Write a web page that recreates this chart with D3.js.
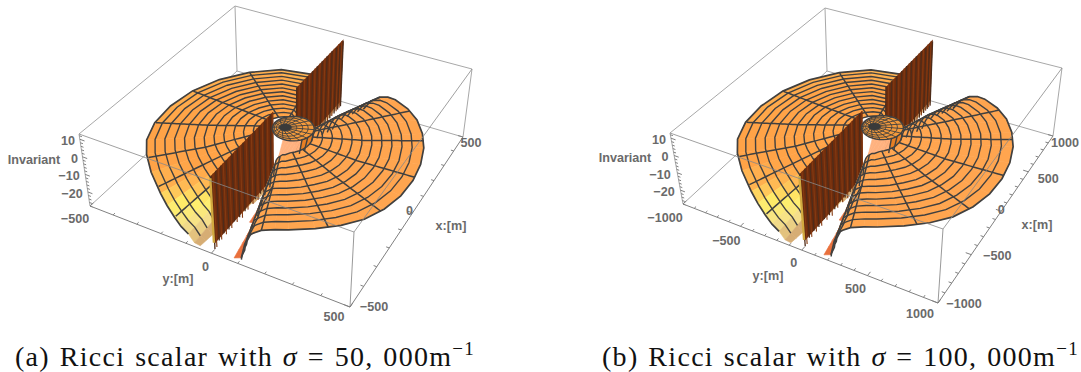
<!DOCTYPE html>
<html>
<head>
<meta charset="utf-8">
<script src="https://cdn.jsdelivr.net/npm/d3@7"></script>
<style>
  body { margin: 0; background: #fff; }
  svg { display: block; }
  .tick-label { font-family: "Liberation Sans", sans-serif; font-weight: bold; font-size: 12.6px; fill: #6a6a6a; text-anchor: middle; dominant-baseline: middle; }
  .caption { font-family: "Liberation Serif", serif; font-size: 28px; fill: #111; letter-spacing: 1.3px; word-spacing: 1.5px; }
</style>
</head>
<body>
<svg width="1081" height="372"></svg>
<script>
// surface values, radii in metres for the +-500 panel
const zDomain = [-28, 13];
const zTicks = [10, 0, -10, -20];
const rowRadii = [80, 280, 490];

const leftAngles = [181, 183, 186, 189, 192, 196, 200, 205, 210, 220, 230, 240, 255, 270, 285, 300, 315, 330, 345, 352, 359];
const leftInnerZ = [-30, -20, -14, -10, -8, -6, -5, -5, -4, -4, -4, -4, -4, -4, -4, -4, -4, -4, -4, -6, -15];
const leftMidZ = [-50, -32, -24, -20, -16, -14, -12, -10, -9, -8, -8, -8, -8, -8, -8, -8, -8, -8, -10, -14, -40];
const leftRimZ = [-80, -60, -40, -28, -25, -23.5, -21, -18, -15, -11, -9, -9, -11, -12, -12, -12, -12, -12, -14, -22, -60];
const leftRings = [75, 110, 145, 180, 215, 250, 285, 320, 355, 390, 425, 460, 490];
const leftSpokes = [200, 213, 228, 255, 285, 315, 345];

const rightAngles = [1, 3, 5, 8, 11, 15, 20, 25, 30, 40, 50, 60, 70, 80, 90, 100, 110, 120, 130, 140, 150, 155, 160, 163, 165, 166.5, 168, 171, 174, 177, 179];
const rightInnerZ = [-40, -32, -26, -22, -18, -15, -13, -11, -10, -9, -8, -8, -8, -8, -8, -8, -8, -8, -8, -8, -9, -9, -10, -10.5, -11, -11.5, -12, -14, -20, -29, -45];
const rightMidZ = [-60, -45, -33, -27, -21, -16, -13, -11, -10, -9, -9, -9, -9, -10, -10, -10.5, -10.5, -10.5, -10, -10, -10, -10, -10.5, -12, -13, -15, -18, -28, -40, -50, -60];
const rightRimZ = [-80, -60, -45, -32, -27, -20, -15, -12, -10.5, -9, -8, -8, -8, -9, -10, -11, -11.5, -11.5, -10.5, -9.5, -9, -9, -10, -12, -14, -19, -27, -36, -50, -60, -70];
const rightRings = [100, 135, 170, 205, 240, 275, 310, 345, 380, 415, 450, 490];
const rightSpokes = [20, 42, 65, 88, 112, 135, 160];

const hubZ = -3;
const hubRings = [22, 36, 50, 62, 74];
const hubSpokes = d3.range(0, 360, 22.5);

const frontWallBars = [-478, -466, -450, -435, -420, -405, -388, -370, -352, -335, -318, -300, -282, -262, -245, -228, -210, -192, -175, -155, -138, -120, -100, -84];
const frontWallLows = [-28, -28, -26, -27, -25, -27, -26, -27, -25, -27, -26, -28, -26, -27, -25, -27, -26, -28, -26, -27, -26, -28, -26, -28];
const backWallBars = [90, 110, 132, 150, 172, 190, 212, 232, 250, 272, 290, 312, 330, 352, 372, 390, 410, 428, 442, 455, 468];
const backWallTops = [13, 13, 13, 13, 13, 13, 13, 13, 13, 13, 13, 13, 13, 13, 13, 13, 12, 13, 11, 13, 12];

const panels = [
  {
    rMax: 500,
    top: { left: [79, 134], back: [235, 6], right: [472, 69], front: [354, 232] },
    floor: { left: [90, 206], back: [237, 71], right: [463, 137], front: [350, 307] },
    xTicks: [-500, 0, 500], yTicks: [-500, 0, 500],
    xLabelOffsets: [[24, 1], [-3, -1], [8, 7]],
    yLabelOffsets: [[-15, 14], [-6, 14], [-16, 11]],
    xTitle: [451, 227], yTitle: [178, 280],
    zLabelX: [68, 74.5, 69, 72], invariant: [34, 161],
    caption: { x: 15, sigma: '50, 000' }
  },
  {
    rMax: 1000,
    top: { left: [670, 133], back: [825, 8], right: [1062, 68], front: [943, 229] },
    floor: { left: [683, 204], back: [827, 71], right: [1053, 136], front: [938, 303] },
    xTicks: [-1000, -500, 0, 500, 1000], yTicks: [-1000, -500, 0, 500, 1000],
    xLabelOffsets: [[26, 2], [26, 2], [0, 0], [20, 8], [12, 8]],
    yLabelOffsets: [[-18, 15], [-14, 15], [-8, 14], [-12, 14], [-18, 12]],
    xTitle: [1037, 226], yTitle: [768, 277],
    zLabelX: [659, 665, 660, 664], invariant: [625, 159],
    caption: { x: 602, sigma: '100, 000' }
  }
];

const squareToQuad = (p0, p1, p2, p3) => {
  const dx1 = p1[0] - p2[0], dx2 = p3[0] - p2[0], sx = p0[0] - p1[0] + p2[0] - p3[0];
  const dy1 = p1[1] - p2[1], dy2 = p3[1] - p2[1], sy = p0[1] - p1[1] + p2[1] - p3[1];
  const det = dx1 * dy2 - dx2 * dy1;
  const g = (sx * dy2 - dx2 * sy) / det;
  const h = (dx1 * sy - sx * dy1) / det;
  const a = p1[0] - p0[0] + g * p1[0], b = p3[0] - p0[0] + h * p3[0];
  const d = p1[1] - p0[1] + g * p1[1], e = p3[1] - p0[1] + h * p3[1];
  return (u, v) => {
    const w = g * u + h * v + 1;
    return [(a * u + b * v + p0[0]) / w, (d * u + e * v + p0[1]) / w];
  };
};

// z at radius r and angle t from the three rows of a half
const createSurface = (angles, rows) => {
  const byAngle = rows.map(row => d3.scaleLinear().domain(angles).range(row));
  return (r, t) => d3.scaleLinear().domain(rowRadii).range(byAngle.map(s => s(t)))(r);
};

const leftZ = createSurface(leftAngles, [leftInnerZ, leftMidZ, leftRimZ]);
const rightZ = createSurface(rightAngles, [rightInnerZ, rightMidZ, rightRimZ]);

const leftColor = d3.scaleLinear()
  .domain([-28, -23, -18, -14, -10])
  .range(['#d6ad74', '#f5e08c', '#fff06a', '#ffbc55', '#ffa347'])
  .clamp(true);
const rightColor = d3.scaleLinear()
  .domain([-28, -20, -15])
  .range(['#e9703c', '#f5824a', '#ffa54f'])
  .clamp(true);

const drawPanel = (panel) => {
  const svg = d3.select('svg').append('g');
  const k = panel.rMax / 500;
  const xScale = d3.scaleLinear().domain([-panel.rMax, panel.rMax]).range([0, 1]);
  const yScale = d3.scaleLinear().domain([-panel.rMax, panel.rMax]).range([0, 1]);
  const zScale = d3.scaleLinear().domain(zDomain).range([0, 1]).clamp(true);
  const topMap = squareToQuad(panel.top.left, panel.top.back, panel.top.right, panel.top.front);
  const floorMap = squareToQuad(panel.floor.left, panel.floor.back, panel.floor.right, panel.floor.front);

  const project = (x, y, z) => {
    const u = xScale(x), v = yScale(y), f = zScale(z);
    const a = floorMap(u, v), b = topMap(u, v);
    return [a[0] + (b[0] - a[0]) * f, a[1] + (b[1] - a[1]) * f];
  };
  const polar = (r, t, z) => project(r * k * Math.cos(t * Math.PI / 180), r * k * Math.sin(t * Math.PI / 180), z);
  const line = d3.line();
  const [lo, hi] = zDomain;
  const R = panel.rMax;

  const edge = (a, b, stroke = '#a8a8a8', opacity = 1, g = svg) => g.append('path')
    .attr('d', line([project(...a), project(...b)]))
    .attr('fill', 'none').attr('stroke', stroke).attr('stroke-width', 1).attr('stroke-opacity', opacity);

  // box edges behind the surface
  edge([R, -R, hi], [-R, -R, hi]);
  edge([R, -R, hi], [R, R, hi]);
  edge([R, -R, hi], [R, -R, lo]);
  edge([R, -R, lo], [-R, -R, lo]);
  edge([R, -R, lo], [R, R, lo]);
  edge([-R, -R, hi], [-R, -R, lo]);
  edge([R, R, hi], [R, R, lo]);

  const drawSheet = (angles, rings, zAt, color, spokes) => {
    const g = svg.append('g');
    const quads = [];
    d3.pairs(rings).forEach(([r0, r1]) => {
      d3.pairs(angles).forEach(([t0, t1]) => {
        const zs = [zAt(r0, t0), zAt(r1, t0), zAt(r1, t1), zAt(r0, t1)];
        if (d3.max(zs) <= lo) return;
        const tm = (t0 + t1) / 2 * Math.PI / 180, rm = (r0 + r1) / 2;
        quads.push({
          points: [polar(r0, t0, zs[0]), polar(r1, t0, zs[1]), polar(r1, t1, zs[2]), polar(r0, t1, zs[3])],
          z: d3.mean(zs),
          t: (t0 + t1) / 2,
          depth: rm * Math.cos(tm) - rm * Math.sin(tm)
        });
      });
    });
    quads.sort((a, b) => d3.descending(a.depth, b.depth));
    g.selectAll('path').data(quads).join('path')
      .attr('d', d => line(d.points) + 'Z')
      .attr('fill', d => color(d.z, d.t))
      .attr('stroke', d => color(d.z, d.t))
      .attr('stroke-width', 0.6);

    const meshLine = d3.line().defined(d => d.z > lo).x(d => d.p[0]).y(d => d.p[1]);
    rings.forEach((r, i) => {
      const pts = angles.map(t => ({ z: zAt(r, t), p: polar(r, t, zAt(r, t)) }));
      g.append('path').attr('d', meshLine(pts)).attr('fill', 'none')
        .attr('stroke', '#404040').attr('stroke-width', i === rings.length - 1 ? 1.7 : 1.4);
    });
    spokes.forEach(t => {
      const pts = d3.range(rings[0], rings[rings.length - 1] + 1, 10).map(r => ({ z: zAt(r, t), p: polar(r, t, zAt(r, t)) }));
      g.append('path').attr('d', meshLine(pts)).attr('fill', 'none')
        .attr('stroke', '#404040').attr('stroke-width', 1.5);
    });
  };

  drawSheet(leftAngles, leftRings, leftZ, z => leftColor(z), leftSpokes);

  // the two walls along y = 0
  const drawWall = (x0, x1, bars, lows, tops) => {
    const g = svg.append('g');
    g.append('path')
      .attr('d', line([project(x0 * k, 0, hi), project(x1 * k, 0, hi), project(x1 * k, 0, lo + 3), project(x0 * k, 0, lo + 3)]) + 'Z')
      .attr('fill', '#6e2c0d');
    bars.forEach((x, i) => {
      const top = tops ? tops[i] : hi;
      const low = lows ? lows[i] : lo;
      g.append('path').attr('d', line([project(x * k, 0, top), project(x * k, 0, low)]))
        .attr('stroke', i % 2 ? '#843a12' : '#4e2c1a').attr('stroke-width', i % 2 ? 1.1 : 1.3);
    });
  };
  drawWall(90, 470, backWallBars, null, backWallTops);
  drawWall(-478, -80, frontWallBars, frontWallLows, null);
  // yellow end of the front wall
  svg.append('path').attr('d', line([project(-482 * k, 0, hi - 1), project(-482 * k, 0, lo + 4)]))
    .attr('stroke', '#d2a93f').attr('stroke-width', 2.4);

  // flank under the hub rim
  const shift = r => [9 * k * (r / 74) ** 2, 30 * k * (r / 74) ** 2];
  const hubPoint = (r, t, z) => {
    const s = shift(r);
    return project(r * k * Math.cos(t * Math.PI / 180) + s[0], r * k * Math.sin(t * Math.PI / 180) + s[1], z);
  };
  const flank = d3.pairs(d3.range(0, 181, 10));
  svg.append('g').selectAll('path').data(flank).join('path')
    .attr('d', ([a, b]) => line([hubPoint(74, a, hubZ), hubPoint(74, b, hubZ),
      polar(100, Math.min(b, 179), rightZ(100, Math.min(b, 179))), polar(100, Math.max(a, 1), rightZ(100, Math.max(a, 1)))]) + 'Z')
    .attr('fill', d => d[0] > 110 ? '#ffb27f' : '#e5892c')
    .attr('stroke', d => d[0] > 110 ? '#ffb27f' : '#e5892c').attr('stroke-width', 0.6);

  const rightFill = (z, t) => (t < 22 && z < -12) ? '#e77f24' : rightColor(z);
  drawSheet(rightAngles, rightRings, rightZ, rightFill, rightSpokes);

  // dark line where the right sheet meets the floor next to the front wall
  const floorEdge = d3.range(100, 491, 15).map(r => {
    const t = d3.range(179, 150, -0.5).find(a => rightZ(r, a) > lo);
    return polar(r, t, lo);
  });
  svg.append('path').attr('d', line(floorEdge)).attr('fill', 'none')
    .attr('stroke', '#404040').attr('stroke-width', 1.5);

  // hub
  const hub = svg.append('g');
  const circleAngles = d3.range(0, 361, 10);
  hub.append('path').attr('d', line(circleAngles.map(t => hubPoint(74, t, hubZ))) + 'Z').attr('fill', '#f39a3c');
  hubSpokes.forEach(t => {
    hub.append('path').attr('d', line([hubPoint(22, t, hubZ), hubPoint(74, t, hubZ)]))
      .attr('stroke', '#404040').attr('stroke-width', 0.9);
  });
  hubRings.forEach((r, i) => {
    hub.append('path').attr('d', line(circleAngles.map(t => hubPoint(r, t, hubZ))) + 'Z')
      .attr('fill', i === 0 ? '#3a3a3a' : 'none')
      .attr('stroke', '#404040').attr('stroke-width', i === hubRings.length - 1 ? 1.4 : 0.9);
  });

  // box edges in front, with the axes
  edge([-R, -R, hi], [-R, R, hi], '#888', 0.8);
  edge([R, R, hi], [-R, R, hi], '#888', 0.8);
  edge([-R, R, hi], [-R, R, lo], '#999');
  edge([-R, -R, lo], [-R, R, lo], '#808080');
  edge([-R, R, lo], [R, R, lo], '#808080');

  const ticks = svg.append('g');
  const tickLen = R * 0.022;
  d3.range(-R, R + 1, 100).forEach(v => {
    const len = v % 500 === 0 ? tickLen * 1.8 : tickLen;
    edge([-R, v, lo], [-R + len, v, lo], '#808080', 1, ticks);
    edge([v, R, lo], [v, R - len, lo], '#808080', 1, ticks);
  });
  d3.range(-28, 13, 2).forEach(v => {
    edge([-R, -R, v], [-R, -R + (v % 10 === 0 ? tickLen * 1.8 : tickLen), v], '#808080', 1, ticks);
  });

  const labels = svg.append('g');
  const fmt = v => (v < 0 ? '\u2212' : '') + Math.abs(v);
  panel.yTicks.forEach((v, i) => {
    const p = project(-R, v, lo), o = panel.yLabelOffsets[i];
    labels.append('text').attr('class', 'tick-label').attr('x', p[0] + o[0]).attr('y', p[1] + o[1]).text(fmt(v));
  });
  panel.xTicks.forEach((v, i) => {
    const p = project(v, R, lo), o = panel.xLabelOffsets[i];
    labels.append('text').attr('class', 'tick-label').attr('x', p[0] + o[0]).attr('y', p[1] + o[1]).text(fmt(v));
  });
  zTicks.forEach((v, i) => {
    const p = project(-R, -R, v);
    labels.append('text').attr('class', 'tick-label').attr('x', panel.zLabelX[i]).attr('y', p[1] + 2.5).text(fmt(v));
  });
  labels.append('text').attr('class', 'tick-label').attr('x', panel.xTitle[0]).attr('y', panel.xTitle[1]).text('x:[m]');
  labels.append('text').attr('class', 'tick-label').attr('x', panel.yTitle[0]).attr('y', panel.yTitle[1]).text('y:[m]');
  labels.append('text').attr('class', 'tick-label').attr('x', panel.invariant[0]).attr('y', panel.invariant[1]).text('Invariant');

  const caption = svg.append('text').attr('class', 'caption').attr('x', panel.caption.x).attr('y', 366);
  caption.append('tspan').text(panel === panels[0] ? '(a) Ricci scalar with ' : '(b) Ricci scalar with ');
  caption.append('tspan').attr('font-style', 'italic').text('\u03c3');
  caption.append('tspan').text(` = ${panel.caption.sigma}m`);
  caption.append('tspan').attr('font-size', 19).attr('dy', -11).text('\u22121');
};

panels.forEach(drawPanel);
</script>
</body>
</html>
